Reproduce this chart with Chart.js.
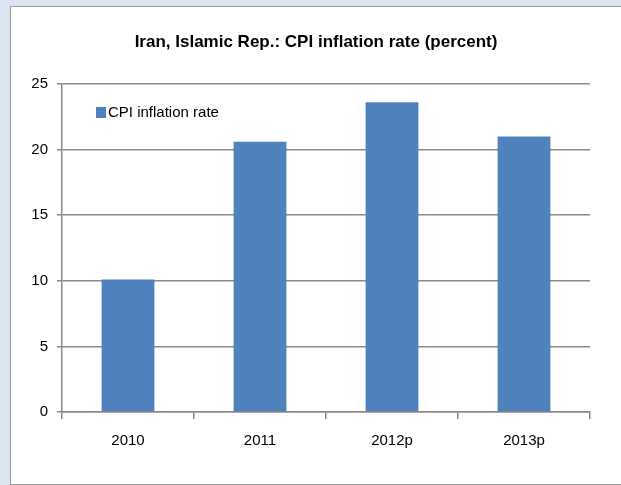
<!DOCTYPE html>
<html>
<head>
<meta charset="utf-8">
<script src="https://cdn.jsdelivr.net/npm/chart.js@4.4.1/dist/chart.umd.min.js"></script>
<style>
  html, body { margin: 0; padding: 0; }
  body { width: 621px; height: 485px; background: #DBE5F1; position: relative; overflow: hidden; }
  #panel { position: absolute; left: 10px; top: 6px; width: 640px; height: 477px; background: #fff; border: 1px solid #9c9c9c; }
  #cpi { position: absolute; left: 0; top: 0; }
</style>
</head>
<body>
<div id="panel"></div>
<canvas id="cpi" width="621" height="485"></canvas>
<script>
// ── Data ───────────────────────────────
const years = ['2010', '2011', '2012p', '2013p'];
const cpiRate = [10.1, 20.6, 23.6, 21.0];
const yTicks = [0, 5, 10, 15, 20, 25];
const titleText = 'Iran, Islamic Rep.: CPI inflation rate (percent)';

const C = {
  bar: '#4F81BD',
  grid: '#8a8a8a',
  text: '#000',
  font: '"Liberation Sans", Arial, sans-serif',
};

// title centred on the whole panel, legend inside the plot top-left
const panelText = {
  id: 'panelText',
  afterDraw(chart) {
    const ctx = chart.ctx;
    const ds = chart.data.datasets[0];
    ctx.save();
    ctx.fillStyle = C.text;
    ctx.font = 'bold 17px ' + C.font;
    ctx.textAlign = 'center';
    ctx.textBaseline = 'middle';
    ctx.fillText(titleText, 316, 42);

    ctx.textAlign = 'left';
    ctx.fillStyle = ds.backgroundColor;
    ctx.fillRect(96, 107, 10, 11);
    ctx.fillStyle = C.text;
    ctx.font = '15px ' + C.font;
    ctx.fillText(ds.label, 108, 113);
    ctx.restore();
  }
};

new Chart(document.getElementById('cpi'), {
  type: 'bar',
  data: {
    labels: years,
    datasets: [{
      label: 'CPI inflation rate',
      data: cpiRate,
      backgroundColor: C.bar,
      borderWidth: 0,
      categoryPercentage: 1,
      barPercentage: 0.4,
    }]
  },
  options: {
    responsive: false,
    animation: false,
    devicePixelRatio: 1,
    layout: { padding: { left: 0, right: 31, top: 84, bottom: 0 } },
    plugins: {
      legend: { display: false },
      tooltip: { enabled: false },
      title: { display: false },
    },
    scales: {
      x: {
        afterFit(s) { s.height = 73; },
        grid: { drawOnChartArea: false, drawTicks: true, tickLength: 7, color: C.grid, lineWidth: 1.5 },
        border: { color: C.grid, width: 1.5 },
        ticks: { color: C.text, font: { family: C.font, size: 15 }, padding: 13, maxRotation: 0 },
      },
      y: {
        min: 0, max: 25,
        afterFit(s) { s.width = 62; },
        afterBuildTicks(s) { s.ticks = yTicks.map(v => ({ value: v })); },
        grid: { color: C.grid, lineWidth: 1.5, tickLength: 5 },
        border: { color: C.grid, width: 1.5 },
        ticks: { color: C.text, font: { family: C.font, size: 15 }, padding: 9 },
      },
    },
  },
  plugins: [panelText],
});
</script>
</body>
</html>
